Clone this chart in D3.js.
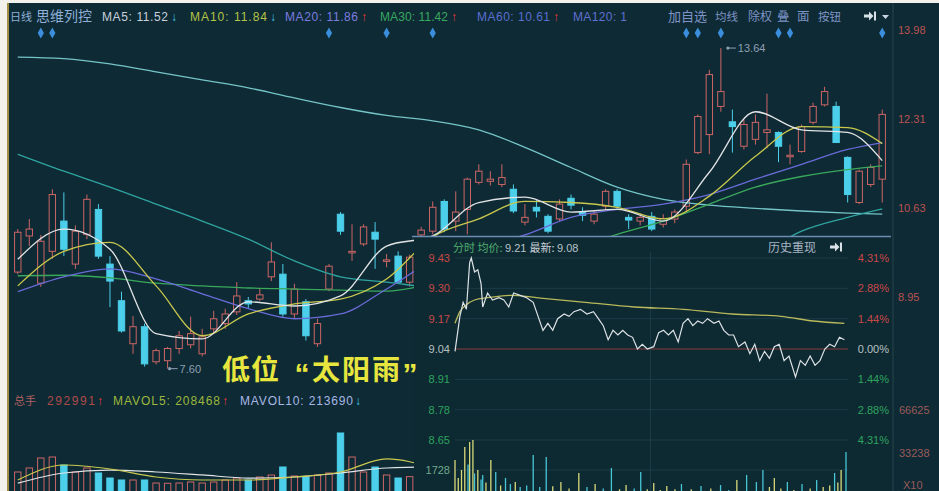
<!DOCTYPE html>
<html><head><meta charset="utf-8">
<script src="https://cdn.jsdelivr.net/npm/d3@7"></script>
<style>
html,body{margin:0;padding:0;background:#fff;}
svg{display:block;}
text{font-family:"Liberation Sans","DejaVu Sans",sans-serif;}
.cjk{font-family:"Noto Sans CJK SC","Noto Sans",sans-serif;}
</style></head><body>
<svg id="c" width="939" height="491"></svg>
<script>
// ---------------- DATA ----------------
const opens  = [9.42,10.10,9.21,9.81,10.38,9.57,10.13,10.60,9.57,8.88,
                8.07,8.39,7.73,7.75,7.98,8.05,7.88,8.35,8.45,8.67,
                8.88,8.91,9.33,9.38,8.63,8.86,8.07,9.10,10.51,9.80,
                9.95,10.17,9.63,9.72,9.23,10.12,10.19,10.75,10.38,10.60,
                11.11,11.13,11.07,10.98,10.36,10.64,10.47,10.42,10.81,10.55,
                10.38,10.66,10.94,10.45,10.38,10.47,10.32,10.42,10.66,11.67,
                12.01,12.54,12.25,11.79,11.92,12.05,12.05,11.60,11.69,12.24,
                12.57,12.54,11.58,10.73,11.07,11.17];
const highs  = [10.23,10.42,10.12,10.98,10.92,10.30,10.88,10.70,9.72,9.05,
                8.59,8.45,7.98,8.01,8.31,8.58,8.35,8.69,8.73,9.23,
                8.95,9.10,9.98,9.57,9.20,8.91,8.54,9.57,10.55,10.32,
                10.32,10.36,9.76,9.81,9.75,10.27,10.75,10.79,10.94,11.20,
                11.45,11.32,11.45,11.07,10.70,10.79,10.51,10.79,10.88,10.64,
                10.57,10.98,10.98,10.51,10.53,10.55,10.51,10.60,11.54,12.39,
                13.23,13.64,12.48,12.29,12.39,12.78,12.07,11.82,12.20,12.61,
                12.91,12.63,11.60,11.35,11.45,12.48];
const lows   = [9.38,9.91,9.14,9.67,9.72,9.48,10.04,9.67,8.76,8.28,
                7.88,7.64,7.68,7.60,7.88,7.98,7.83,8.26,8.35,8.61,
                8.73,8.88,9.25,8.58,8.54,8.13,8.01,9.06,10.12,9.63,
                9.91,9.48,9.51,9.20,9.15,10.08,10.13,10.17,10.19,10.13,
                11.07,11.05,11.02,10.53,10.30,10.45,10.15,10.38,10.60,10.38,
                10.32,10.60,10.60,10.23,10.30,10.19,10.26,10.34,10.57,11.64,
                11.64,12.44,11.67,11.73,11.82,11.75,11.49,11.45,11.67,12.20,
                12.54,11.86,10.73,10.70,11.02,10.73];
const closes = [10.17,10.23,10.00,10.88,9.85,10.19,10.79,9.72,9.25,8.31,
                8.39,7.69,7.94,7.98,8.22,8.26,8.20,8.54,8.63,8.97,
                8.82,8.99,9.61,8.63,9.10,8.22,8.45,9.53,10.19,9.81,
                10.27,10.04,9.65,9.23,9.70,10.21,10.64,10.23,10.55,11.17,
                11.32,11.17,11.20,10.57,10.45,10.57,10.19,10.70,10.68,10.49,
                10.51,10.94,10.66,10.40,10.45,10.23,10.43,10.55,11.45,12.35,
                13.14,12.82,12.16,12.20,12.24,12.10,11.79,11.62,12.16,12.54,
                12.82,11.86,10.88,11.32,11.39,12.39];
const volumes = [185900,216900,294400,302100,240200,185900,216900,178200,139400,123900,
                 123900,123900,100700,98500,100700,108500,100700,108500,123900,139400,
                 123900,147200,162700,224700,155000,147200,162700,178200,488100,302100,
                 185900,224700,162700,139400,150000,160000,210000,190000,175000,260000,
                 280000,240000,220000,250000,200000,170000,180000,165000,190000,150000,
                 145000,200000,185000,140000,135000,150000,140000,150000,160000,420000,
                 560000,610000,580000,430000,320000,300000,280000,330000,250000,240000,
                 300000,280000,360000,410000,280000,292991];
// moving averages at these candle indices
const maIdx  = [0,4,8,12,16,20,24,28,32,36,40,44,48,52,56,60,64,68,72,75];
const ma5    = [9.66,10.23,9.85,8.26,8.16,8.86,8.78,8.97,9.91,10.10,10.73,10.83,10.55,10.60,10.38,11.30,12.44,12.10,12.05,11.52];
const ma10   = [9.16,9.81,9.98,9.16,8.22,8.63,8.82,8.91,9.29,10.08,10.42,10.75,10.73,10.64,10.42,10.85,11.60,12.16,12.14,11.84];
const ma20   = [9.05,9.33,9.48,9.29,9.01,8.73,8.54,8.63,9.10,9.63,9.89,10.12,10.45,10.60,10.70,10.88,11.17,11.45,11.73,11.86];
const ma30   = [9.35,9.36,9.31,9.21,9.16,9.12,9.10,9.08,9.06,9.20,9.38,9.63,9.85,10.13,10.38,10.70,11.02,11.22,11.35,11.42];
const ma60   = [11.64,11.32,11.02,10.70,10.38,10.04,9.63,9.33,9.23,9.12,9.03,8.97,8.95,8.99,9.10,9.29,9.70,10.19,10.45,10.61];
const ma120  = [13.47,13.44,13.34,13.19,13.04,12.89,12.70,12.52,12.37,12.27,12.10,11.77,11.39,11.02,10.79,10.68,10.62,10.57,10.53,10.51];
const mavolIdx = [0,4,8,12,16,20,24,28,32,36];
const mavol5   = [124000,240000,209000,147000,124000,124000,147000,186000,287000,217000];
const mavol10  = [100000,178000,201000,186000,163000,139000,147000,178000,217000,225000];
const priceTicks = [13.98,12.31,10.63,8.95];
const volTicks   = [666250,332380];
const eventIdx   = [2,3,27,32,36,58,59,61,66,67,75];
const maHeader   = [["MA5",11.52,"dn"],["MA10",11.84,"dn"],["MA20",11.86,"up"],["MA30",11.42,"up"],["MA60",10.61,"up"]];
const volHeader  = [292991,208468,213690];
// intraday (分时) inset
const prevClose = 9.04;
const tMin   = [0,3,5,7,9,10,12,14,16,17,20,23,27,30,33,36,40,44,48,51,
                54,57,60,63,67,70,73,77,81,85,88,91,94,97,100,103,106,109,112,115,
                118,122,125,128,131,134,137,140,143,146,149,152,155,159,162,165,168,171,174,178,
                181,184,187,190,193,196,199,202,205,209,212,215,218,221,224,227,230,233,236,239];
const tPrice = [9.03,9.18,9.24,9.21,9.41,9.43,9.37,9.38,9.32,9.22,9.28,9.25,9.26,9.25,9.22,9.28,9.27,9.26,9.24,9.18,
                9.12,9.15,9.12,9.17,9.19,9.18,9.20,9.21,9.19,9.20,9.17,9.14,9.08,9.12,9.10,9.12,9.10,9.09,9.04,9.06,
                9.04,9.05,9.11,9.12,9.10,9.12,9.07,9.15,9.17,9.14,9.16,9.15,9.17,9.15,9.16,9.12,9.10,9.10,9.05,9.07,
                9.02,9.06,8.99,9.03,9.00,9.05,9.06,8.99,9.01,8.92,8.99,8.97,9.01,8.97,8.99,9.04,9.06,9.05,9.09,9.08];
const avgMin   = [0,3,7,12,20,35,50,80,110,140,170,200,220,239];
const avgPrice = [9.15,9.20,9.23,9.25,9.26,9.27,9.26,9.24,9.22,9.21,9.19,9.18,9.16,9.15];
const tvMin = [0,2,4,6,8,9,11,12,14,16,17,19,22,25,28,31,34,37,40,44,48,52,56,60,65,70,76,81,86,91,
               96,101,105,110,114,118,122,126,130,135,139,145,151,157,163,168,173,179,185,189,
               193,196,200,204,208,213,218,222,226,230,233,235,237,240];
const tvVol = [2390,1200,1730,3260,2100,3590,3720,1500,1730,1100,1400,900,2390,1600,700,1200,800,930,600,700,
               2730,600,2590,650,930,500,1530,600,800,500,1860,450,730,500,1600,450,860,400,660,450,
               800,450,660,500,730,400,1060,1400,930,1730,600,1200,500,930,400,800,500,1060,600,700,
               1530,900,1730,2930];
const tPriceTicks = [9.43,9.30,9.17,9.04,8.91,8.78,8.65];
const tVolTick = 1728;
const tHeader = {avg:9.21, last:9.08};

// ---------------- DRAW ----------------
const BG = '#0e2a34';
const UP = '#cc6666', DN = '#4ccfea';
const svg = d3.select('#c');
svg.append('rect').attr('width',939).attr('height',491).attr('fill',BG);

const n = closes.length;
const idx = d3.range(n);
const x = d3.scaleBand().domain(idx).range([12,888]).paddingInner(0.36).paddingOuter(0.18);
const bw = x.bandwidth();
const xc = i => x(i) + bw/2;
const y = d3.scaleLinear().domain([8.95,13.98]).range([297,30]);
const yv = d3.scaleLinear().domain([0,666250]).range([496,410]);

const main = svg.append('g');
// candles
const cg = main.selectAll('g.cdl').data(idx).join('g').attr('class','cdl');
cg.append('line')
  .attr('x1',i=>xc(i)).attr('x2',i=>xc(i))
  .attr('y1',i=>y(highs[i])).attr('y2',i=>y(lows[i]))
  .attr('stroke',i=>closes[i]>=opens[i]?UP:DN).attr('stroke-width',1);
cg.append('rect')
  .attr('x',i=>x(i)+0.5).attr('width',bw-1)
  .attr('y',i=>y(Math.max(opens[i],closes[i])))
  .attr('height',i=>Math.max(1.5,Math.abs(y(opens[i])-y(closes[i]))))
  .attr('fill',i=>closes[i]>=opens[i]?BG:DN)
  .attr('stroke',i=>closes[i]>=opens[i]?UP:DN).attr('stroke-width',1);

// MA lines
const maLine = d3.line().x(d=>xc(d[0])).y(d=>y(d[1])).curve(d3.curveMonotoneX);
[[ma120,'#74c4c8'],[ma60,'#2fa4a0'],[ma30,'#3aa85c'],[ma20,'#6a6ad8'],[ma10,'#c9c84e'],[ma5,'#e2e4e6']].forEach(([arr,col])=>{
  main.append('path').datum(maIdx.map((k,j)=>[k,arr[j]])).attr('d',maLine)
    .attr('fill','none').attr('stroke',col).attr('stroke-width',1.3);
});

// volume bars
const vg = main.selectAll('g.vol').data(idx).join('g').attr('class','vol');
vg.append('rect')
  .attr('x',i=>x(i)+0.5).attr('width',bw-1)
  .attr('y',i=>yv(volumes[i])).attr('height',i=>yv(0)-yv(volumes[i]))
  .attr('fill',i=>closes[i]>=opens[i]?BG:DN)
  .attr('stroke',i=>closes[i]>=opens[i]?UP:DN).attr('stroke-width',1);
const mvLine = d3.line().x(d=>xc(d[0])).y(d=>yv(d[1])).curve(d3.curveMonotoneX);
[[mavol10,'#e2e4e6'],[mavol5,'#c9c84e']].forEach(([arr,col])=>{
  main.append('path').datum(mavolIdx.map((k,j)=>[k,arr[j]])).attr('d',mvLine)
    .attr('fill','none').attr('stroke',col).attr('stroke-width',1.2);
});

// low / high markers
const iMin = d3.minIndex(lows), iMax = d3.maxIndex(highs);
function markLabel(i, v, dx){
  const gx = xc(i)+dx, gy = y(v);
  main.append('circle').attr('cx',gx).attr('cy',gy).attr('r',1.6).attr('fill','#8fa0b4');
  main.append('line').attr('x1',gx).attr('x2',gx+8).attr('y1',gy).attr('y2',gy).attr('stroke','#8fa0b4');
  main.append('text').attr('x',gx+10).attr('y',gy+4).attr('fill','#8fa0b4').attr('font-size',11).text(v.toFixed(2));
}
markLabel(iMin, lows[iMin], 2);
markLabel(iMax, highs[iMax], 7);

// small "jump" icon (arrow to bar)
function jumpIcon(g, px, py){
  g.append('path').attr('d',`M${px},${py-1.5}h5v-3l4.5,4.5l-4.5,4.5v-3h-5z`).attr('fill','#d8e0e8');
  g.append('rect').attr('x',px+10).attr('y',py-4.5).attr('width',2).attr('height',9).attr('fill','#d8e0e8');
}

// ---------------- INSET (分时) ----------------
const ins = svg.append('g');
ins.append('rect').attr('x',414).attr('y',236).attr('width',478).attr('height',255).attr('fill','#0d2a32');
ins.append('line').attr('x1',412).attr('x2',891).attr('y1',236.5).attr('y2',236.5).attr('stroke','#6b8db2').attr('stroke-width',1.5);
const tx = d3.scaleLinear().domain([0,240]).range([455,846]);
const ty = d3.scaleLinear().domain([8.65,9.43]).range([440,258]);
const tvy = d3.scaleLinear().domain([0,tVolTick]).range([496,470]);
tPriceTicks.forEach(p=>{
  ins.append('line').attr('x1',455).attr('x2',848).attr('y1',ty(p)).attr('y2',ty(p))
    .attr('stroke', Math.abs(p-prevClose)<1e-6 ? '#8a3a3a' : '#1b3b47').attr('stroke-width',1);
});
ins.append('line').attr('x1',tx(120)).attr('x2',tx(120)).attr('y1',252).attr('y2',491).attr('stroke','#1b3b47');
ins.append('line').attr('x1',455).attr('x2',848).attr('y1',tvy(tVolTick)).attr('y2',tvy(tVolTick)).attr('stroke','#1b3b47');
// intraday volume
const priceAt = m => tPrice[Math.max(0, d3.bisectRight(tMin, m)-1)];
ins.selectAll('line.tv').data(d3.range(tvMin.length)).join('line').attr('class','tv')
  .attr('x1',j=>tx(tvMin[j])).attr('x2',j=>tx(tvMin[j]))
  .attr('y1',tvy(0)).attr('y2',j=>tvy(tvVol[j]))
  .attr('stroke',j=> (j===0 || priceAt(tvMin[j])>=priceAt(tvMin[j-1])) ? '#d9d97a' : '#48c6d6')
  .attr('stroke-width',1.3);
// average & price lines
ins.append('path').datum(avgMin.map((m,j)=>[m,avgPrice[j]]))
  .attr('d',d3.line().x(d=>tx(d[0])).y(d=>ty(d[1])).curve(d3.curveMonotoneX))
  .attr('fill','none').attr('stroke','#b8b85c').attr('stroke-width',1.3);
ins.append('path').datum(tMin.map((m,j)=>[m,tPrice[j]]))
  .attr('d',d3.line().x(d=>tx(d[0])).y(d=>ty(d[1])))
  .attr('fill','none').attr('stroke','#dde2e6').attr('stroke-width',1.2);
// labels
const tcol = p => p>prevClose+1e-6 ? '#c84848' : (p<prevClose-1e-6 ? '#2ea35e' : '#b8c0c0');
tPriceTicks.forEach(p=>{
  ins.append('text').attr('x',450).attr('y',ty(p)+4).attr('text-anchor','end')
    .attr('fill',tcol(p)).attr('font-size',11).text(p.toFixed(2));
  ins.append('text').attr('x',889).attr('y',ty(p)+4).attr('text-anchor','end')
    .attr('fill',tcol(p)).attr('font-size',11)
    .text((Math.abs(p-prevClose)/prevClose*100).toFixed(2)+'%');
});
ins.append('text').attr('x',450).attr('y',tvy(tVolTick)+4).attr('text-anchor','end')
  .attr('fill','#6fa88c').attr('font-size',11).text(tVolTick);
const tt = ins.append('text').attr('x',453).attr('y',252).attr('font-size',11);
tt.append('tspan').attr('class','cjk').attr('fill','#4fae6e').text('分时 均价: ');
tt.append('tspan').attr('fill','#b8c2c8').text(tHeader.avg.toFixed(2)+' ');
tt.append('tspan').attr('class','cjk').attr('fill','#c8d0d8').text('最新: ');
tt.append('tspan').attr('fill','#b8c2c8').text(tHeader.last.toFixed(2));
ins.append('text').attr('class','cjk').attr('x',768).attr('y',252).attr('font-size',12).attr('fill','#a8b4c4').text('历史重现');
jumpIcon(ins, 830, 247);

// ---------------- frame / axes ----------------
svg.append('line').attr('x1',893).attr('x2',893).attr('y1',3).attr('y2',491).attr('stroke','#24434f');
const pa = svg.append('g').attr('transform','translate(895,0)')
  .call(d3.axisRight(y).tickValues(priceTicks).tickSize(0).tickPadding(3).tickFormat(d3.format('.2f')));
pa.select('.domain').remove();
pa.selectAll('text').attr('fill','#bb5252').attr('font-size',11).attr('font-family','Liberation Sans');
const va = svg.append('g').attr('transform','translate(895,0)')
  .call(d3.axisRight(yv).tickValues(volTicks).tickSize(0).tickPadding(4).tickFormat(v=>Math.round(v/10)));
va.select('.domain').remove();
va.selectAll('text').attr('fill','#9a5a5a').attr('font-size',11).attr('font-family','Liberation Sans');
svg.append('text').attr('x',903).attr('y',489).attr('fill','#9a5a5a').attr('font-size',11).text('X10');

// header
const hdr = svg.append('g').attr('font-size',12);
hdr.append('text').attr('class','cjk').attr('x',10).attr('y',21).attr('fill','#8fb0d8').attr('font-size',11).text('日线');
hdr.append('text').attr('class','cjk').attr('x',36).attr('y',21).attr('fill','#8fb0d8').attr('font-size',14).text('思维列控');
const hcols = ['#c8d0dc','#b4c448','#7c7ce0','#38a860','#5a6fd0'];
const hx = [102,190,285,380,477], hw=[66,77,73,68,73];
maHeader.forEach((h,k)=>{
  hdr.append('text').attr('x',hx[k]).attr('y',21).attr('fill',hcols[k])
    .attr('textLength',hw[k]).attr('lengthAdjust','spacing').text(h[0]+': '+h[1].toFixed(2));
  hdr.append('text').attr('x',hx[k]+hw[k]+3).attr('y',21).attr('font-weight','bold')
    .attr('fill',h[2]==='up'?'#e43a3a':'#3cc8e8').attr('font-family','DejaVu Sans').attr('font-size',12).text(h[2]==='up'?'↑':'↓');
});
hdr.append('text').attr('x',573).attr('y',21).attr('fill','#6070d0').attr('textLength',54).attr('lengthAdjust','spacing').text('MA120: 1');
[['加自选',668,13],['均线',715,11.5],['除权',748,12],['叠',777,12.5],['面',797,12.5],['按钮',818,11.5]].forEach(([t,px,fs])=>{
  hdr.append('text').attr('class','cjk').attr('x',px).attr('y',21).attr('font-size',fs).attr('fill','#7e94c6').text(t);
});
jumpIcon(hdr, 864, 16);
hdr.append('path').attr('d','M882,15h7l-3.5,4z').attr('fill','#c8d4e4');
// event diamonds
svg.selectAll('path.ev').data(eventIdx).join('path').attr('class','ev')
  .attr('d',d3.symbol(d3.symbolDiamond,34)())
  .attr('transform',i=>`translate(${xc(i)},33)`).attr('fill','#3a8edb');

// volume header
const vh = svg.append('g').attr('font-size',12);
vh.append('text').attr('class','cjk').attr('x',14).attr('y',405).attr('font-size',11).attr('fill','#b06060').text('总手');
vh.append('text').attr('x',47).attr('y',405).attr('fill','#b04a4a').attr('textLength',48).attr('lengthAdjust','spacing').text(volHeader[0]);
vh.append('text').attr('x',97).attr('y',405).attr('fill','#e43a3a').attr('font-weight','bold').attr('font-family','DejaVu Sans').attr('font-size',12).text('↑');
vh.append('text').attr('x',113).attr('y',405).attr('fill','#9cb83c').attr('textLength',107).attr('lengthAdjust','spacing').text('MAVOL5: '+volHeader[1]);
vh.append('text').attr('x',222).attr('y',405).attr('fill','#e43a3a').attr('font-weight','bold').attr('font-family','DejaVu Sans').attr('font-size',12).text('↑');
vh.append('text').attr('x',240).attr('y',405).attr('fill','#a8b8e6').attr('textLength',113).attr('lengthAdjust','spacing').text('MAVOL10: '+volHeader[2]);
vh.append('text').attr('x',355).attr('y',405).attr('fill','#3cc8e8').attr('font-weight','bold').attr('font-family','DejaVu Sans').attr('font-size',12).text('↓');

// annotation arrow + text
const ax1 = xc(22.06), ay1 = y(8.93), ax2 = xc(33.86), ay2 = y(8.05);
const YEL = '#e6e63e';
svg.append('line').attr('x1',ax1).attr('y1',ay1).attr('x2',ax2).attr('y2',ay2).attr('stroke',YEL).attr('stroke-width',2);
svg.append('path').attr('d',`M${ax2-10},${ay2-13}L${ax2},${ay2}L${ax2-12},${ay2+7}`).attr('fill','none').attr('stroke',YEL).attr('stroke-width',2);
const ann = [['低',236],['位',265],['太',326],['阳',356],['雨',386]];
ann.forEach(([t,cx])=>svg.append('text').attr('class','cjk').attr('x',cx).attr('y',380).attr('text-anchor','middle')
  .attr('font-size',28).attr('font-weight','bold').attr('fill',YEL).text(t));
[['“',302],['”',410]].forEach(([t,cx])=>svg.append('text').attr('x',cx).attr('y',384).attr('text-anchor','middle')
  .attr('font-family','Liberation Serif').attr('font-size',30).attr('font-weight','bold').attr('fill',YEL).text(t));

// paper edges
svg.append('rect').attr('x',0).attr('y',0).attr('width',7).attr('height',491).attr('fill','#f3f1ec');
svg.append('rect').attr('x',0).attr('y',0).attr('width',939).attr('height',3).attr('fill','#f3f1ec');
svg.append('line').attr('x1',8).attr('x2',8).attr('y1',3).attr('y2',491).attr('stroke','#d6ae48').attr('stroke-width',1.5);
</script>
</body></html>
